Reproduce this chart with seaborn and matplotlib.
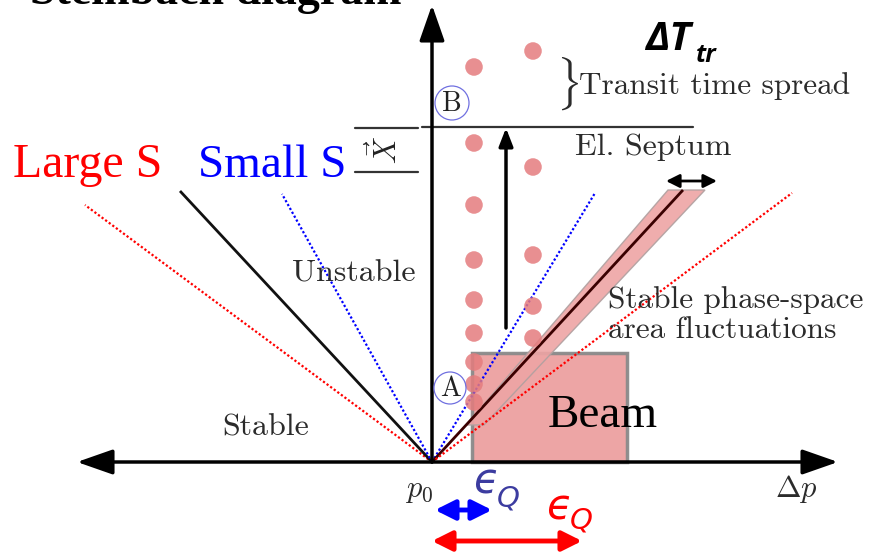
import matplotlib
matplotlib.use("Agg")
import matplotlib.pyplot as plt
import seaborn as sns
import pandas as pd
from matplotlib.patches import Rectangle, Polygon, Circle

# ---------------- data (diagram coordinates, pixel-like units) ----------------
origin_x, origin_y = 432, 462

# particle dots (two columns)
dot_x = [474, 474, 474, 474, 474, 474, 474, 474, 474, 533, 533, 533, 533, 533]
dot_y = [67, 143, 205, 260, 300, 333, 362, 384, 402, 51, 167, 255, 306, 338]

# separatrix fan lines: end points (all start at the origin)
fan_names = ["Large S left", "sep left", "Small S left", "Small S right", "sep right", "Large S right"]
fan_end_x = [85, 180, 282, 595, 683, 792]
fan_end_y = [205, 191, 194, 193, 190, 193]
fan_colors = ["red", "black", "blue", "blue", "black", "red"]

# beam rectangle
beam_x0, beam_x1 = 472, 627
beam_y0, beam_y1 = 353, 462

# ---------------- figure ----------------
sns.set_theme(style="white")
plt.rcParams["font.family"] = ["Liberation Serif", "DejaVu Serif"]
plt.rcParams["mathtext.fontset"] = "cm"

fig = plt.figure(figsize=(8.71, 5.53), dpi=100)
ax = fig.add_axes([0, 0, 1, 1])

# beam rectangle
ax.add_patch(Rectangle((beam_x0, beam_y0), beam_x1 - beam_x0, beam_y1 - beam_y0,
                       facecolor="#eca0a0", edgecolor="#8a8a8a", lw=2.5, alpha=0.95, zorder=1))

# pink band around right separatrix
ax.add_patch(Polygon([(668, 190), (705, 190), (484, 425), (466, 425)],
                     closed=True, facecolor="#eea4a4", edgecolor="#b0a0a0", lw=1, alpha=0.9, zorder=2))

# fan lines
for ex, ey, c in zip(fan_end_x, fan_end_y, fan_colors):
    if c == "black":
        ax.plot([origin_x, ex], [origin_y, ey], color="#111111" if ex < origin_x else "#3a0000",
                lw=2, zorder=3, solid_capstyle="butt")
    else:
        ax.plot([origin_x, ex], [origin_y, ey], color=c, lw=1.6, ls=(0, (1, 1)), zorder=3)

# dots via seaborn
df = pd.DataFrame({"x": dot_x, "y": dot_y})
sns.scatterplot(data=df, x="x", y="y", ax=ax, s=160, color="#e57c7e", alpha=0.85,
                edgecolor="none", zorder=4, legend=False)
ax.set_xlim(0, 871)
ax.set_ylim(553, 0)
ax.axis("off")

axis_arrow = dict(arrowstyle="-|>,head_length=1.0,head_width=0.35", lw=2.5, color="black",
                  shrinkA=0, shrinkB=0, mutation_scale=22)
# axes (horizontal double arrow, vertical arrow)
ax.annotate("", xy=(77, origin_y), xytext=(origin_x, origin_y), arrowprops=axis_arrow, zorder=5)
ax.annotate("", xy=(838, origin_y), xytext=(origin_x, origin_y), arrowprops=axis_arrow, zorder=5)
ax.annotate("", xy=(origin_x, 5), xytext=(origin_x, origin_y), arrowprops=axis_arrow, zorder=5)

# septum line and X marks
ax.plot([422, 693], [127, 127], color="#333333", lw=1.6, zorder=3)
ax.plot([355, 418], [128, 128], color="#333333", lw=1.6, zorder=3)
ax.plot([355, 418], [172, 172], color="#333333", lw=1.6, zorder=3)
ax.text(386, 150, r"$\vec{X}$", rotation=90, fontsize=22, color="#222222",
        ha="center", va="center", zorder=6)

# vertical arrow (step)
ax.annotate("", xy=(506, 128), xytext=(506, 328),
            arrowprops=dict(arrowstyle="-|>,head_length=0.9,head_width=0.35", lw=2.5, color="black",
                            shrinkA=0, shrinkB=0, mutation_scale=12), zorder=5)

# septum width arrow
ax.annotate("", xy=(666, 181), xytext=(717, 181),
            arrowprops=dict(arrowstyle="<|-|>,head_length=0.8,head_width=0.4", lw=2, color="black",
                            shrinkA=0, shrinkB=0, mutation_scale=10), zorder=5)

# circles A and B
ax.add_patch(Circle((452, 103), 17, fill=False, edgecolor="#7070e0", lw=0.9, zorder=6))
ax.add_patch(Circle((450, 388), 16, fill=False, edgecolor="#7070e0", lw=0.9, zorder=6))
ax.text(452, 104, "B", fontfamily="cmr10", fontsize=20, color="#222222", ha="center", va="center", zorder=7)
ax.text(450, 389, "A", fontfamily="cmr10", fontsize=20, color="#222222", ha="center", va="center", zorder=7)

# LaTeX-like labels
lab_col = "#2b2b2b"
ax.text(556, 84, r"$\}$", fontsize=32, color=lab_col, ha="left", va="center", zorder=6)
ax.text(579, 94, "Transit time spread", fontfamily="cmr10", fontsize=22.5, color=lab_col,
        ha="left", va="baseline", zorder=6)
ax.text(575, 155, "El. Septum", fontfamily="cmr10", fontsize=23, color=lab_col,
        ha="left", va="baseline", zorder=6)
ax.text(292, 282, "Unstable", fontfamily="cmr10", fontsize=23, color=lab_col,
        ha="left", va="baseline", zorder=6)
ax.text(222, 435, "Stable", fontfamily="cmr10", fontsize=23, color=lab_col,
        ha="left", va="baseline", zorder=6)
ax.text(608, 308, "Stable phase-space", fontfamily="cmr10", fontsize=22.5, color=lab_col,
        ha="left", va="baseline", zorder=6)
ax.text(608, 338, "area fluctuations", fontfamily="cmr10", fontsize=22.5, color=lab_col,
        ha="left", va="baseline", zorder=6)
ax.text(405, 497, r"$p_0$", fontsize=22, color=lab_col, ha="left", va="baseline", zorder=6)
ax.text(775, 497, r"$\Delta p$", fontsize=22, color=lab_col, ha="left", va="baseline", zorder=6)

# Times-like labels
ax.text(13, 177, "Large S", fontsize=34.5, color="red", ha="left", va="baseline", zorder=6)
ax.text(198, 177, "Small S", fontsize=34, color="blue", ha="left", va="baseline", zorder=6)
ax.text(548, 427, "Beam", fontsize=34, color="black", ha="left", va="baseline", zorder=6)
ax.text(30, 4, "Steinbach diagram", fontsize=33, fontweight="bold", color="black",
        ha="left", va="baseline", zorder=6)

# Delta T_tr
ax.text(645, 50, "ΔT", fontfamily="Open Sans", fontsize=29, fontweight="bold", fontstyle="italic",
        color="black", ha="left", va="baseline", zorder=6)
ax.text(696, 62, "tr", fontfamily="Open Sans", fontsize=18, fontweight="bold", fontstyle="italic",
        color="black", ha="left", va="baseline", zorder=6)

# epsilon_Q labels
ax.text(474, 493, "ϵ", fontfamily="DejaVu Sans", fontstyle="italic", fontsize=30, color="#3c3ca0",
        ha="left", va="baseline", zorder=6)
ax.text(497, 506, "Q", fontfamily="DejaVu Sans", fontstyle="italic", fontsize=21, color="#3c3ca0",
        ha="left", va="baseline", zorder=6)
ax.text(547, 519, "ϵ", fontfamily="DejaVu Sans", fontstyle="italic", fontsize=30, color="red",
        ha="left", va="baseline", zorder=6)
ax.text(570, 528, "Q", fontfamily="DejaVu Sans", fontstyle="italic", fontsize=21, color="red",
        ha="left", va="baseline", zorder=6)

# epsilon arrows
eps_arrow = dict(arrowstyle="<|-|>,head_length=0.8,head_width=0.4", lw=3.5,
                 shrinkA=0, shrinkB=0, mutation_scale=15)
ax.annotate("", xy=(435, 510), xytext=(492, 510), arrowprops=dict(eps_arrow, color="blue"), zorder=5)
ax.annotate("", xy=(432, 541), xytext=(582, 541), arrowprops=dict(eps_arrow, color="red"), zorder=5)

fig.savefig("out.png", dpi=100)
